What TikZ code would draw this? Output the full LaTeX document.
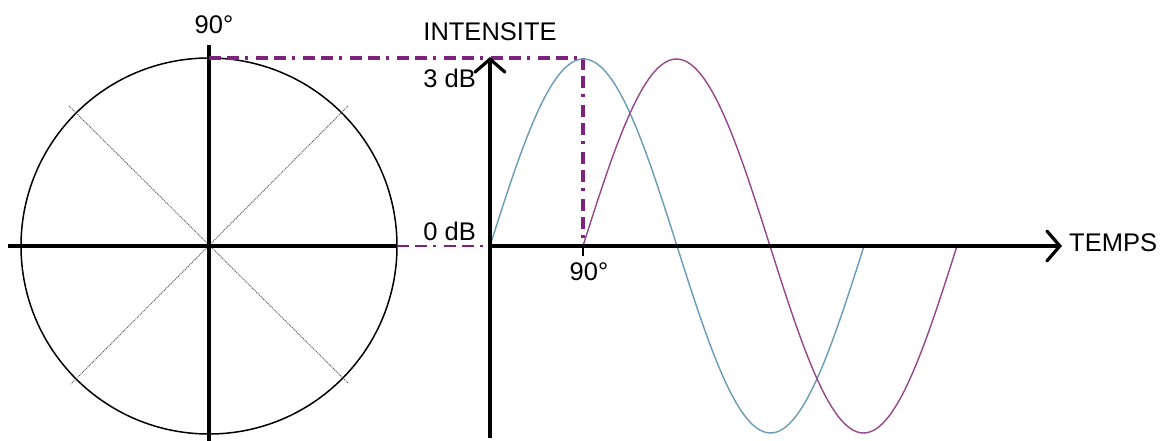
\documentclass[tikz,border=0pt]{standalone}
\usepackage{fontspec}
\setmainfont{Liberation Sans}
\usetikzlibrary{arrows.meta}
\definecolor{wblue}{RGB}{105,155,185}
\definecolor{wpurple}{RGB}{150,70,140}
\definecolor{dpurple}{RGB}{125,35,125}
\tikzset{
  lbl/.style={inner sep=0pt, font=\fontsize{25.5}{30}\selectfont},
  axis/.style={line width=3.2pt, black},
  barb/.style={-{Straight Barb[length=13pt,width=30pt,line width=3.2pt,line cap=round]}},
  ddot/.style={line width=4.2pt, dpurple, dash pattern=on 12pt off 6pt on 12pt off 6pt on 3pt off 8pt},
  ddotthin/.style={line width=2.6pt, dpurple, dash pattern=on 12pt off 6pt on 12pt off 6pt on 3pt off 8pt},
  diag/.style={line width=1pt, black!65, densely dotted},
  wave/.style={line width=1.4pt}
}
\begin{document}
\begin{tikzpicture}[x=1pt,y=-1pt]
\useasboundingbox (0,0) rectangle (1165,441);
% coordinates
\coordinate (O) at (209,246);
\coordinate (Ltop) at (209,45);
\coordinate (Lbot) at (209,441);
\coordinate (Lleft) at (8,246);
\coordinate (Lright) at (397,246);
\coordinate (Ctop) at (209,58);
\coordinate (D1a) at (69,106);
\coordinate (D1b) at (348,383);
\coordinate (D2a) at (348,106);
\coordinate (D2b) at (71,384);
\coordinate (R0) at (490,246);
\coordinate (Rtop) at (490,57);
\coordinate (Rbot) at (490,438);
\coordinate (Rend) at (1062,246);
\coordinate (P) at (583,58);
\coordinate (P0) at (583,246);
\coordinate (Ptick) at (583,256);
% circle
\draw[line width=1.5pt] (O) circle[radius=188pt];
\draw[diag] (D1a) -- (D1b);
\draw[diag] (D2a) -- (D2b);
\draw[axis] (Lleft) -- (Lright);
\draw[axis] (Ltop) -- (Lbot);
% projections
\draw[ddot] (Ctop) -- (P);
\draw[ddot] (P) -- (P0);
\draw[ddotthin] (Lright) -- (R0);
% waves
\draw[wave, wblue] plot[domain=0:360, samples=120, smooth] ({490+\x/360*374},{246-187*sin(\x)});
\draw[wave, wpurple] plot[domain=0:360, samples=120, smooth] ({583+\x/360*374},{246-187*sin(\x)});
% axes right
\draw[axis, barb] (Rbot) -- (Rtop);
\draw[axis, barb] (R0) -- (Rend);
\draw[line width=1.2pt] (P0) -- (Ptick);
% labels
\node[lbl] (l90top) at (214,25) {90°};
\node[lbl] (lint) at (490,32) {INTENSITE};
\node[lbl, anchor=east] (l3) at (476,78) {3 dB};
\node[lbl, anchor=east] (l0) at (476,231) {0 dB};
\node[lbl] (l90) at (589,272) {90°};
\node[lbl, anchor=west] (ltemps) at (1069,243) {TEMPS};
\end{tikzpicture}
\end{document}
